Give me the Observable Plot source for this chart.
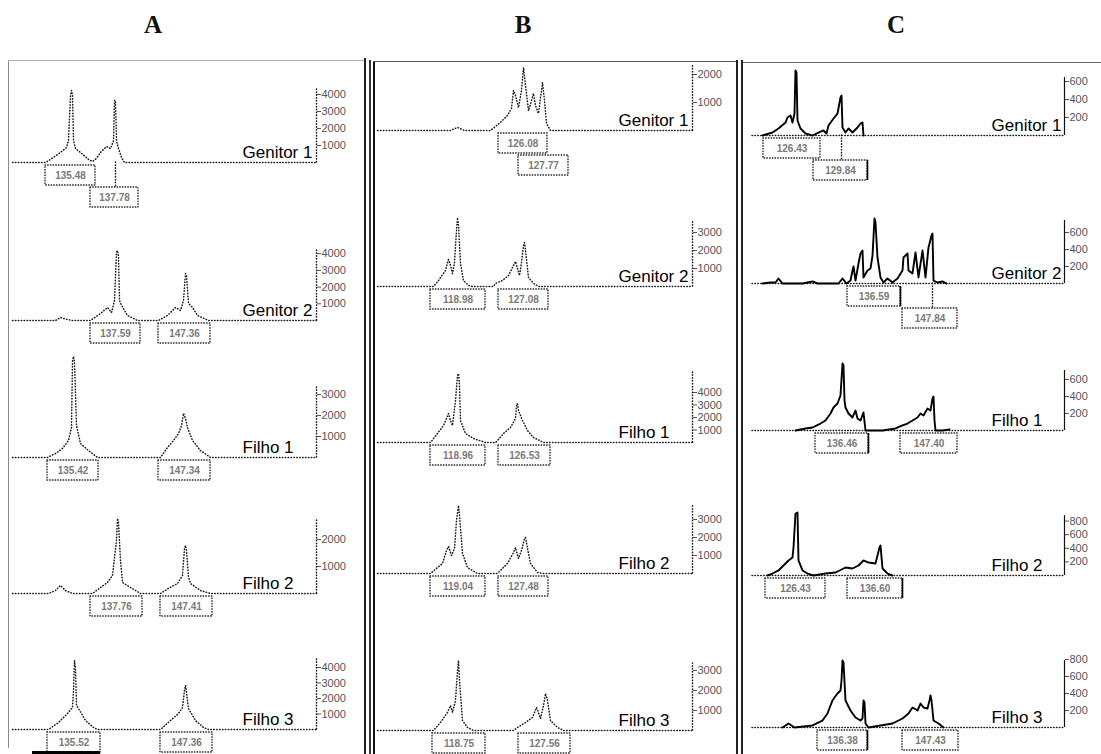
<!DOCTYPE html>
<html><head><meta charset="utf-8">
<script src="https://cdn.jsdelivr.net/npm/d3@7"></script>
<script src="https://cdn.jsdelivr.net/npm/@observablehq/plot@0.6"></script>
<style>
body{margin:0;background:#fff;}
#fig{position:relative;width:1101px;height:754px;overflow:hidden;background:#fff;}
.hdr{position:absolute;top:11px;font:bold 25px "Liberation Serif",serif;transform:translateX(-50%);color:#111;}
.ln{position:absolute;}
.row{position:absolute;}
</style></head><body><div id="fig"></div><script>
// ---------------- DATA ----------------
const panelNames = ["A", "B", "C"];
const rowNames = ["Genitor 1", "Genitor 2", "Filho 1", "Filho 2", "Filho 3"];

// traces: [size (bp), signal (RFU)]
const A_g1 = [[129.0,0],[132.3,0],[132.8,180],[133.8,590],[134.4,880],[134.6,1290],[134.8,3940],[134.9,4240],[135.0,3940],[135.1,1290],[135.3,820],[135.8,590],[136.6,180],[137.0,60],[137.4,240],[137.8,590],[138.4,940],[138.8,820],[139.1,1290],[139.2,3650],[139.3,3650],[139.4,1290],[139.6,820],[139.9,290],[140.2,0],[159.4,0]];
const A_g2 = [[129.0,0],[133.3,0],[133.8,180],[134.5,60],[135.0,0],[136.8,0],[137.8,420],[138.5,780],[138.9,480],[139.2,1200],[139.4,4070],[139.5,4190],[139.6,3890],[139.7,1200],[139.9,900],[140.5,300],[141.5,0],[143.6,0],[144.5,300],[145.3,780],[145.8,600],[146.1,1200],[146.3,2810],[146.4,2690],[146.6,1020],[147.0,780],[147.5,300],[148.6,0],[159.4,0]];
const A_f1 = [[129.0,0],[132.5,0],[133.3,190],[134.0,430],[134.6,810],[134.9,1430],[135.0,4620],[135.1,4810],[135.2,4520],[135.4,1520],[135.8,670],[136.6,330],[137.5,0],[143.8,0],[144.5,480],[145.1,810],[145.6,1140],[145.9,1520],[146.1,2100],[146.3,1860],[146.5,1430],[147.0,810],[147.8,330],[148.8,0],[159.4,0]];
const A_f2 = [[129.0,0],[132.6,0],[133.3,110],[133.8,300],[134.3,110],[135.0,0],[137.0,0],[137.8,220],[138.5,410],[139.0,670],[139.4,1960],[139.5,2780],[139.6,2630],[139.8,1220],[140.0,410],[140.8,220],[141.8,0],[143.8,0],[144.6,190],[145.5,370],[146.0,670],[146.2,1670],[146.3,1780],[146.4,1590],[146.6,630],[146.8,370],[147.8,110],[148.8,0],[159.4,0]];
const A_f3 = [[129.0,0],[132.6,0],[133.6,450],[134.5,1030],[135.0,1420],[135.1,2520],[135.2,4450],[135.3,3940],[135.4,1550],[135.6,1350],[136.3,580],[137.1,130],[137.5,0],[143.8,0],[144.8,580],[145.6,1030],[146.0,1420],[146.2,2520],[146.3,2840],[146.4,2390],[146.6,1350],[147.3,580],[148.1,130],[148.6,0],[159.4,0]];

const B_g1 = [[111.0,0],[118.3,0],[119.0,110],[119.7,0],[122.3,0],[123.3,290],[124.0,540],[124.4,790],[124.6,1430],[124.8,1250],[125.1,820],[125.4,1430],[125.6,2250],[125.8,1610],[126.1,710],[126.4,1070],[126.6,1320],[126.8,890],[127.1,610],[127.4,1430],[127.5,1710],[127.7,1070],[127.9,250],[128.3,0],[142.5,0]];
const B_g2 = [[111.0,0],[116.6,0],[117.1,330],[117.8,890],[118.0,1330],[118.1,1500],[118.3,1170],[118.5,720],[118.7,1330],[118.9,3110],[119.0,3830],[119.1,3390],[119.3,1280],[119.6,330],[120.1,60],[120.5,0],[122.6,0],[122.8,170],[123.5,330],[124.1,610],[124.6,1170],[124.8,1390],[125.0,1000],[125.2,610],[125.4,1330],[125.6,2280],[125.7,2440],[125.8,2000],[126.1,500],[126.6,170],[127.1,0],[142.5,0]];
const B_f1 = [[111.0,0],[116.3,0],[117.0,720],[117.6,1360],[117.9,1920],[118.1,2320],[118.3,1760],[118.5,1360],[118.8,3360],[119.0,5360],[119.1,5520],[119.2,4560],[119.3,1760],[119.8,720],[120.6,320],[121.8,0],[122.8,0],[123.0,160],[123.6,720],[124.3,1200],[124.8,1920],[124.9,2960],[125.0,3120],[125.1,2560],[125.5,1760],[126.0,960],[126.6,400],[127.6,0],[142.5,0]];
const B_f2 = [[111.0,0],[116.3,0],[117.5,560],[117.9,1280],[118.1,1500],[118.4,1000],[118.7,1390],[118.9,2940],[119.1,3780],[119.2,3220],[119.5,1110],[120.0,330],[121.0,0],[122.9,0],[123.1,60],[124.0,560],[124.6,1170],[124.8,1440],[125.1,830],[125.4,1280],[125.7,1940],[125.8,2000],[126.0,1390],[126.3,560],[127.0,60],[127.5,0],[142.5,0]];
const B_f3 = [[111.0,0],[116.6,0],[117.3,400],[118.0,900],[118.3,1250],[118.5,900],[118.8,1500],[119.0,3000],[119.1,3500],[119.2,2500],[119.5,500],[120.0,150],[120.6,0],[124.6,0],[125.0,150],[125.8,400],[126.5,650],[126.9,1150],[127.1,900],[127.3,600],[127.6,1250],[127.8,1850],[128.0,1500],[128.3,500],[129.0,150],[129.6,0],[142.5,0]];

const C_g1 = [[123.5,0],[124.5,33],[125.1,78],[125.8,144],[126.0,200],[126.3,222],[126.5,144],[126.7,244],[126.8,722],[126.9,700],[127.0,167],[127.3,78],[127.8,22],[128.5,0],[129.1,33],[129.6,56],[129.9,22],[130.1,111],[130.6,189],[131.0,244],[131.3,422],[131.4,444],[131.5,89],[131.8,33],[132.1,78],[132.5,33],[133.0,89],[133.3,133],[133.5,144],[133.6,0]];
const C_g2 = [[123.5,0],[124.3,12],[124.8,12],[125.1,59],[125.5,0],[127.5,0],[128.5,24],[129.0,0],[131.1,0],[131.5,59],[131.9,0],[132.3,35],[132.5,153],[132.6,200],[132.8,35],[133.1,235],[133.3,353],[133.5,388],[133.6,71],[134.0,153],[134.3,176],[134.5,329],[134.7,765],[134.8,718],[135.0,306],[135.3,71],[135.6,12],[136.0,59],[136.5,12],[137.0,59],[137.5,153],[137.6,306],[138.0,353],[138.1,153],[138.5,118],[138.8,365],[139.1,71],[139.5,388],[139.8,71],[140.1,424],[140.4,565],[140.5,588],[140.6,35],[141.0,12],[141.5,24],[141.9,0]];
const C_f1 = [[126.8,0],[127.8,24],[128.5,35],[129.3,82],[129.8,118],[130.3,200],[130.6,271],[131.0,318],[131.3,412],[131.5,788],[131.6,765],[131.7,353],[131.8,271],[132.1,200],[132.5,153],[132.8,235],[133.0,141],[133.3,118],[133.6,212],[133.8,0],[135.5,0],[136.8,24],[137.5,59],[138.0,82],[138.5,118],[139.0,153],[139.3,200],[139.6,176],[140.0,259],[140.3,235],[140.5,376],[140.6,400],[140.7,118],[140.8,0],[141.5,0],[142.2,12]];
const C_f2 = [[124.0,0],[124.5,29],[125.1,74],[125.8,176],[126.1,221],[126.5,265],[126.6,412],[126.8,912],[127.0,926],[127.1,221],[127.5,74],[128.0,29],[128.6,0],[129.8,29],[130.8,44],[131.8,118],[132.5,103],[133.1,147],[133.6,221],[134.1,191],[134.8,176],[135.2,412],[135.3,441],[135.5,103],[136.0,29],[136.5,0]];
const C_f3 = [[125.5,0],[126.1,47],[126.7,0],[128.5,24],[129.5,82],[130.0,165],[130.3,259],[130.5,318],[130.7,353],[131.0,400],[131.3,435],[131.4,553],[131.5,788],[131.6,765],[131.8,318],[132.3,200],[132.8,118],[133.3,82],[133.5,106],[133.6,318],[133.7,294],[133.8,47],[134.1,0],[136.5,47],[137.5,106],[138.1,165],[138.5,235],[139.0,200],[139.3,282],[139.6,235],[140.0,224],[140.2,318],[140.3,376],[140.4,318],[140.6,82],[141.1,47],[141.6,0]];

// allele call boxes: size range, stacking level, called size
const A_g1_boxes = [{x1:132.3,x2:137.3,level:0,label:"135.48"},{x1:136.8,x2:141.6,level:1,label:"137.78"}];
const A_g2_boxes = [{x1:136.8,x2:141.8,level:0,label:"137.59"},{x1:143.6,x2:148.8,level:0,label:"147.36"}];
const A_f1_boxes = [{x1:132.5,x2:137.6,level:0,label:"135.42"},{x1:143.6,x2:148.8,level:0,label:"147.34"}];
const A_f2_boxes = [{x1:136.8,x2:142.0,level:0,label:"137.76"},{x1:143.8,x2:149.0,level:0,label:"147.41"}];
const A_f3_boxes = [{x1:132.5,x2:137.8,level:0,label:"135.52"},{x1:143.8,x2:149.0,level:0,label:"147.36"}];
const B_g1_boxes = [{x1:123.1,x2:128.0,level:0,label:"126.08"},{x1:125.1,x2:130.1,level:1,label:"127.77"}];
const B_g2_boxes = [{x1:116.3,x2:121.8,level:0,label:"118.98"},{x1:123.1,x2:128.1,level:0,label:"127.08"}];
const B_f1_boxes = [{x1:116.3,x2:121.8,level:0,label:"118.96"},{x1:123.1,x2:128.3,level:0,label:"126.53"}];
const B_f2_boxes = [{x1:116.3,x2:121.8,level:0,label:"119.04"},{x1:123.1,x2:128.1,level:0,label:"127.48"}];
const B_f3_boxes = [{x1:116.5,x2:121.8,level:0,label:"118.75"},{x1:125.1,x2:130.3,level:0,label:"127.56"}];
const C_g1_boxes = [{x1:123.6,x2:129.3,level:0,label:"126.43"},{x1:128.6,x2:134.0,level:1,label:"129.84",edge:true}];
const C_g2_boxes = [{x1:132.0,x2:137.3,level:0,label:"136.59",edge:true},{x1:137.5,x2:143.0,level:1,label:"147.84"}];
const C_f1_boxes = [{x1:128.8,x2:134.1,level:0,label:"136.46",edge:true},{x1:137.3,x2:143.0,level:0,label:"147.40"}];
const C_f2_boxes = [{x1:123.8,x2:129.8,level:0,label:"126.43"},{x1:132.0,x2:137.5,level:0,label:"136.60",edge:true}];
const C_f3_boxes = [{x1:129.0,x2:134.0,level:0,label:"136.38",edge:true},{x1:137.5,x2:143.1,level:0,label:"147.43"}];

// leader lines from peak to a lower box
const A_g1_leaders = [{x:139.3,level:1}];
const C_g1_leaders = [{x:131.4,level:1}];
const C_g2_leaders = [{x:140.5,level:1}];

// RFU scale ticks
const ticksA = [[1000,2000,3000,4000],[1000,2000,3000,4000],[1000,2000,3000],[1000,2000],[1000,2000,3000,4000]];
const ticksB = [[1000,2000],[1000,2000,3000],[1000,2000,3000,4000],[1000,2000,3000],[1000,2000,3000]];
const ticksC = [[200,400,600],[200,400,600],[200,400,600],[200,400,600,800],[200,400,600,800]];
const scaleTopA = [4350,4190,3430,2780,4520];
const scaleTopB = [2320,3670,5760,3780,3350];
const scaleTopC = [644,741,706,880,788];

// size bar under panel A
const sizeBarA = [131.0, 137.8];

// ---------------- LAYOUT ----------------
const panels = {
  A: {left: 8, width: 357, ml: 4, mr: 49, domain: [129.0, 159.4], labelDx: 230, hdr: 153, solid: false},
  B: {left: 373, width: 362, ml: 4, mr: 43, domain: [111.0, 142.5], labelDx: 241, hdr: 523, solid: false},
  C: {left: 745, width: 356, ml: 7, mr: 37, domain: [122.5, 153.7], labelDx: 239, hdr: 896, solid: true}
};
const traces = {A: [A_g1,A_g2,A_f1,A_f2,A_f3], B: [B_g1,B_g2,B_f1,B_f2,B_f3], C: [C_g1,C_g2,C_f1,C_f2,C_f3]};
const boxes = {A: [A_g1_boxes,A_g2_boxes,A_f1_boxes,A_f2_boxes,A_f3_boxes], B: [B_g1_boxes,B_g2_boxes,B_f1_boxes,B_f2_boxes,B_f3_boxes], C: [C_g1_boxes,C_g2_boxes,C_f1_boxes,C_f2_boxes,C_f3_boxes]};
const leaders = {A: [A_g1_leaders,[],[],[],[]], B: [[],[],[],[],[]], C: [C_g1_leaders,C_g2_leaders,[],[],[]]};
const ticks = {A: ticksA, B: ticksB, C: ticksC};
const scaleTop = {A: scaleTopA, B: scaleTopB, C: scaleTopC};
// baseline pixel row and pixels per RFU unit, per panel/row
const baseY = {A: [162,320,457,593,729], B: [130,286,442,573,730], C: [135,283,430,575,727]};
const pxPer = {A: [0.017,0.0167,0.021,0.027,0.0155], B: [0.028,0.018,0.0125,0.018,0.02], C: [0.09,0.085,0.085,0.068,0.085]};
const BOX = [[3,23],[25,45]];
const ABOVE = 100, BELOW = 50;

const fig = document.getElementById("fig");
function line(l, t, w, h, c) {
  const d = document.createElement("div");
  d.className = "ln";
  Object.assign(d.style, {left: l+"px", top: t+"px", width: w+"px", height: h+"px", background: c});
  fig.appendChild(d);
}
// panel frames
line(8, 60, 1, 688, "#8a8a8a");
line(8, 60, 357, 1, "#b0b0b0");
line(364, 58, 2, 696, "#222");
line(369, 60, 2, 694, "#333");
line(373, 61, 2, 693, "#111");
line(373, 61, 363, 1, "#555");
line(736, 60, 2, 694, "#222");
line(741, 60, 2, 694, "#222");
line(743, 62, 358, 1, "#666");

const dotted = {stroke: "#1a1a1a", strokeWidth: 1.5, strokeDasharray: "0.5,2.4", strokeLinecap: "round"};

for (const pn of panelNames) {
  const P = panels[pn];
  const h = document.createElement("div");
  h.className = "hdr"; h.style.left = P.hdr + "px"; h.textContent = pn;
  fig.appendChild(h);
  rowNames.forEach((name, i) => {
    const s = pxPer[pn][i];
    const yOf = px => -px / s;
    const bx = boxes[pn][i];
    const marks = [];
    if (P.solid) {
      marks.push(Plot.ruleY([0], {x1: P.domain[0], x2: P.domain[1], ...dotted}));
      marks.push(Plot.line(traces[pn][i], {x: d => d[0], y: d => d[1], stroke: "#000", strokeWidth: 1.9, strokeLinejoin: "round"}));
      marks.push(Plot.ruleX([P.domain[1]], {y1: 0, y2: scaleTop[pn][i], stroke: "#111", strokeWidth: 1.2}));
    } else {
      marks.push(Plot.line(traces[pn][i], {x: d => d[0], y: d => d[1], ...dotted}));
      marks.push(Plot.ruleX([P.domain[1]], {y1: 0, y2: scaleTop[pn][i], ...dotted}));
    }
    marks.push(Plot.ruleX(leaders[pn][i], {x: "x", y1: 0, y2: d => yOf(BOX[d.level][0]), ...dotted}));
    marks.push(Plot.rect(bx, {x1: "x1", x2: "x2", y1: d => yOf(BOX[d.level][0]), y2: d => yOf(BOX[d.level][1]), fill: "none", stroke: "#222", strokeWidth: 1.4, strokeDasharray: "0.5,2.2", strokeLinecap: "round"}));
    marks.push(Plot.ruleX(bx.filter(d => d.edge), {x: "x2", y1: d => yOf(BOX[d.level][0]), y2: d => yOf(BOX[d.level][1]), stroke: "#000", strokeWidth: 1.6}));
    marks.push(Plot.text(bx, {x: d => (d.x1 + d.x2) / 2, y: d => yOf((BOX[d.level][0] + BOX[d.level][1]) / 2), text: "label", fill: "#7a7a7a", fontSize: 10, fontWeight: "bold"}));
    if (pn === "A" && i === 4) marks.push(Plot.ruleY([yOf(23)], {x1: sizeBarA[0], x2: sizeBarA[1], stroke: "#000", strokeWidth: 3}));
    marks.push(Plot.text([name], {frameAnchor: "bottom-left", dx: P.labelDx, dy: -5, textAnchor: "start", lineAnchor: "bottom", fontSize: 17, fill: "#000", fontFamily: "Liberation Sans, Arial, sans-serif"}));
    const plot = Plot.plot({
      width: P.width, height: ABOVE + BELOW,
      marginLeft: P.ml, marginRight: P.mr, marginTop: 0, marginBottom: BELOW,
      x: {domain: P.domain, axis: null},
      y: {domain: [0, ABOVE / s], axis: "right", ticks: ticks[pn][i], tickSize: 4, tickPadding: 1, tickFormat: d => String(d), label: null},
      style: {background: "transparent", overflow: "visible", fontSize: "11px", color: "#555", fontFamily: "Liberation Sans, Arial, sans-serif"},
      marks
    });
    const d = document.createElement("div");
    d.className = "row";
    Object.assign(d.style, {left: P.left + "px", top: (baseY[pn][i] - ABOVE) + "px", width: P.width + "px", height: (ABOVE + BELOW) + "px"});
    d.appendChild(plot);
    fig.appendChild(d);
  });
}
</script></body></html>
